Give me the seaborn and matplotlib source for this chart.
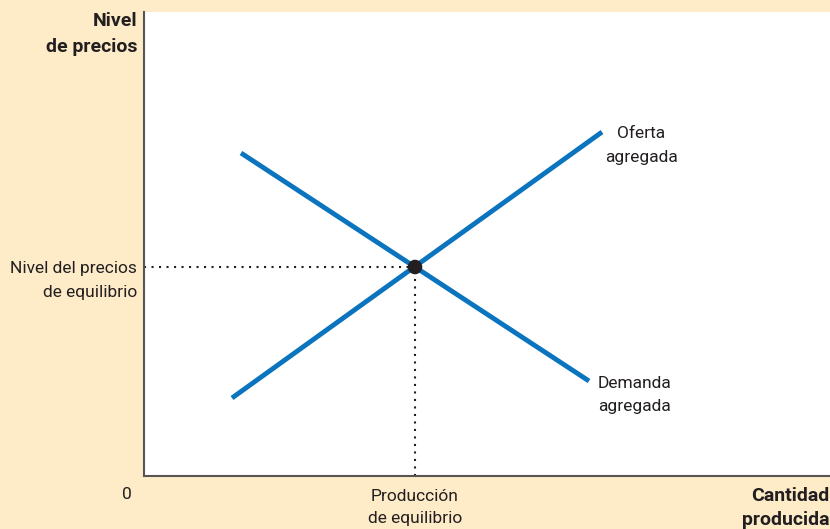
import pandas as pd
import numpy as np
import matplotlib
matplotlib.use('Agg')
import matplotlib.pyplot as plt
import seaborn as sns

# координаты в "пикселях" картинки (y отсчитывается снизу)
oferta_x = [232, 602]
oferta_y = [131, 397]
demanda_x = [241, 589]
demanda_y = [376, 148]
equil_x = 415
equil_y = 262

BG = '#FEEBC8'
AZUL = '#0A74BE'
TEXTO = '#231F20'

sns.set_theme(style='white')
plt.rcParams['font.family'] = ['Roboto', 'DejaVu Sans']

fig = plt.figure(figsize=(8.3, 5.29), dpi=100, facecolor=BG)
ax = fig.add_axes([144 / 830, 53 / 529, 686 / 830, 464 / 529])
ax.set_facecolor('white')

df = pd.DataFrame({
    'x': oferta_x + demanda_x,
    'y': oferta_y + demanda_y,
    'curva': ['Oferta'] * 2 + ['Demanda'] * 2,
})
sns.lineplot(data=df, x='x', y='y', units='curva', estimator=None,
             color=AZUL, linewidth=3.5, ax=ax, legend=False,
             solid_capstyle='butt')

# пунктир до равновесия
ax.plot([144, equil_x], [equil_y, equil_y], color=TEXTO, linestyle=(0, (1, 2.6)), linewidth=1.5)
ax.plot([equil_x, equil_x], [53, equil_y], color=TEXTO, linestyle=(0, (1, 2.6)), linewidth=1.5)
sns.scatterplot(x=[equil_x], y=[equil_y], color=TEXTO, s=110, ax=ax, zorder=5, edgecolor='none')

ax.set_xlim(144, 830)
ax.set_ylim(53, 517)
ax.set_xticks([])
ax.set_yticks([])
ax.set_xlabel('')
ax.set_ylabel('')
for s in ['top', 'right']:
    ax.spines[s].set_visible(False)
for s in ['left', 'bottom']:
    ax.spines[s].set_color('#555555')
    ax.spines[s].set_linewidth(1.5)

fs = 12.5
fs_b = 14
# подписи вне осей (координаты фигуры)
def ftext(px, py, s, size=fs, ls=1.72, **kw):
    fig.text(px / 830, 1 - py / 529, s, color=TEXTO, fontsize=size, linespacing=ls, **kw)

ftext(137, 12, 'Nivel\nde precios', size=fs_b, ls=1.57, ha='right', va='top', fontweight='bold')
ftext(137, 261, 'Nivel del precios\nde equilibrio', ha='right', va='top')
ftext(127, 487, '0', ha='center', va='top')
ftext(415, 489, 'Producción\nde equilibrio', ls=1.55, ha='center', va='top')
ftext(829, 487, 'Cantidad\nproducida', size=fs_b, ls=1.4, ha='right', va='top', fontweight='bold')

ftext(641, 126, 'Oferta\nagregada', ha='center', va='top')
ftext(598, 376, 'Demanda\nagregada', ls=1.65, ha='left', va='top')

fig.savefig('out.png', dpi=100, facecolor=BG)
plt.close()
